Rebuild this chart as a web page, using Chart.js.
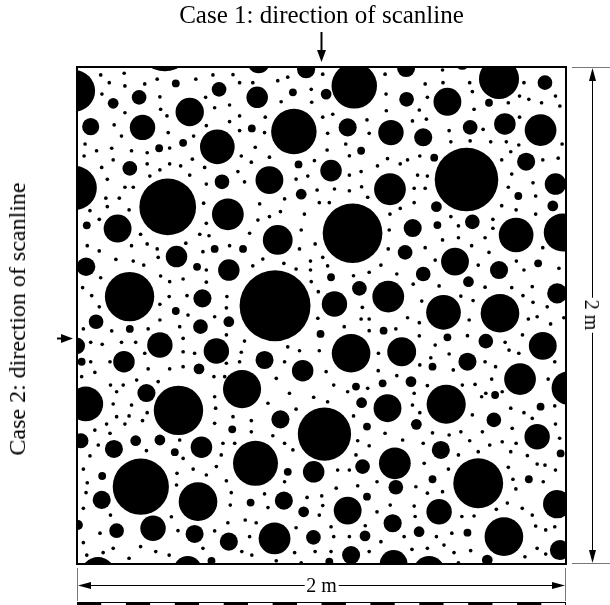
<!DOCTYPE html>
<html>
<head>
<meta charset="utf-8">
<script src="https://cdn.jsdelivr.net/npm/chart.js@4.4.1/dist/chart.umd.min.js"></script>
<style>
  html, body { margin: 0; padding: 0; background: #fff; }
  #wrap { position: relative; width: 610px; height: 605px; overflow: hidden; }
  #c { position: absolute; left: 0; top: 0; }
  .lbl {
    position: absolute;
    font-family: "Liberation Serif", "Times New Roman", serif;
    color: #000;
    white-space: nowrap;
    line-height: 1;
  }
  #t1 { left: 321.5px; top: 14px; font-size: 25px; transform: translate(-50%, -50%); }
  #t2 { left: 17px; top: 319px; font-size: 24px; transform: translate(-50%, -50%) rotate(-90deg); }
  #dimX { left: 321.5px; top: 585px; font-size: 20px; background: #fff; padding: 0 2px; transform: translate(-50%, -50%); }
  #dimY { left: 592px; top: 315px; font-size: 20px; background: #fff; padding: 0 2px; transform: translate(-50%, -50%) rotate(90deg); }
</style>
</head>
<body>
<div id="wrap">
  <canvas id="c" width="610" height="605"></canvas>
  <div class="lbl" id="t1">Case 1: direction of scanline</div>
  <div class="lbl" id="t2">Case 2: direction of scanline</div>
  <div class="lbl" id="dimX">2 m</div>
  <div class="lbl" id="dimY">2 m</div>
</div>
<script>
// Pore map of a 2 m x 2 m section, positions in cm from the top-left corner.
// [x, y, radius] in cm for the larger pores, [x, y] for the small and fine ones.

const SIDE = 200; // cm

const largePores = [
  [-1.1, 9.6, 8.5], [35.9, -9.3, 11.2], [46.1, 18.1, 5.8], [26.8, 24.3, 5.2], [57.4, 32.1, 7.1],
  [-0.9, 48.7, 9.0], [37.1, 56.3, 11.6], [61.7, 59.3, 6.5], [16.6, 65.0, 5.7], [113.4, 7.6, 9.3],
  [88.7, 26.0, 9.3], [128.4, 26.4, 5.2], [78.7, 45.5, 5.7], [128.0, 49.2, 6.5], [172.6, 4.8, 8.2],
  [151.5, 14.0, 5.7], [189.6, 25.4, 6.5], [159.3, 45.3, 13.0], [112.7, 66.9, 12.2], [82.1, 69.6, 6.1],
  [81.0, 96.1, 14.5], [21.5, 92.4, 10.1], [33.9, 111.9, 5.2], [57.0, 114.3, 5.2], [105.3, 95.4, 5.2],
  [127.3, 92.4, 6.5], [112.1, 115.2, 7.9], [132.8, 114.6, 5.9], [67.5, 129.6, 7.8], [179.6, 67.6, 7.1],
  [198.7, 66.6, 7.8], [154.6, 78.3, 5.7], [149.9, 98.7, 7.1], [173.0, 99.1, 7.9], [190.5, 112.2, 5.7],
  [181.2, 125.6, 6.5], [200.9, 129.2, 6.8], [3.6, 135.6, 7.1], [41.5, 138.2, 10.1], [26.1, 168.9, 11.5],
  [49.5, 174.9, 7.9], [31.1, 185.6, 5.2], [8.6, 204.2, 7.1], [45.3, 202.4, 5.7], [127.0, 137.3, 5.7],
  [101.2, 147.7, 10.9], [73.0, 159.5, 9.2], [130.0, 159.5, 6.5], [110.7, 178.5, 5.7], [80.8, 189.7, 6.5],
  [129.5, 200.0, 5.7], [151.0, 135.7, 8.0], [188.2, 148.8, 5.2], [164.1, 167.5, 10.2], [196.4, 175.9, 5.8],
  [148.1, 179.0, 5.2], [174.6, 189.0, 7.9], [144.0, 203.2, 6.5]
];

const mediumPores = [
  [58.1, 9.0, 3.0], [14.8, 14.6, 2.2], [25.4, 12.2, 3.0], [5.6, 24.0, 3.5], [21.6, 40.8, 3.0],
  [59.3, 46.2, 3.0], [74.3, -2.0, 4.6], [93.7, 0.9, 3.7], [73.7, 12.2, 4.4], [101.9, 10.9, 2.2],
  [110.7, 24.3, 3.7], [103.9, 41.7, 4.4], [91.7, 51.2, 2.2], [134.6, 0.4, 3.7], [157.6, -1.5, 2.7],
  [191.4, 6.3, 3.0], [134.8, 13.0, 3.0], [160.8, 24.3, 3.0], [175.0, 22.9, 4.4], [141.6, 28.3, 3.7],
  [183.7, 38.1, 3.7], [195.7, 47.1, 4.4], [147.0, 56.2, 2.2], [194.6, 55.9, 2.2], [161.7, 62.3, 3.0],
  [137.3, 64.8, 3.7], [40.7, 76.3, 4.4], [3.7, 80.4, 3.8], [62.1, 81.7, 4.4], [51.3, 93.1, 3.7],
  [7.8, 102.5, 3.0], [50.5, 104.5, 3.0], [62.1, 102.5, 2.2], [-0.1, 112.2, 3.4], [19.2, 118.6, 4.4],
  [49.9, 121.5, 2.2], [115.5, 89.1, 3.0], [76.7, 117.9, 3.7], [92.3, 122.2, 4.4], [134.2, 74.6, 3.0],
  [172.6, 81.7, 3.7], [141.6, 83.3, 3.0], [160.1, 86.4, 2.2], [196.4, 91.1, 4.1], [167.2, 110.3, 3.0],
  [159.7, 118.6, 3.7], [136.6, 126.6, 2.2], [28.4, 131.2, 3.7], [1.6, 150.4, 3.1], [15.1, 153.7, 3.7],
  [24.0, 150.4, 2.2], [33.9, 150.1, 2.2], [50.9, 153.0, 4.4], [10.1, 174.2, 3.7], [16.2, 186.6, 3.0],
  [48.1, 187.9, 3.7], [62.1, 191.0, 3.7], [0.4, 184.3, 2.0], [116.4, 135.1, 2.2], [83.2, 141.8, 3.7],
  [116.8, 160.8, 3.0], [96.8, 162.9, 4.4], [130.4, 169.1, 3.0], [84.6, 174.5, 3.7], [92.7, 179.0, 2.2],
  [129.1, 183.6, 3.7], [96.7, 189.3, 3.0], [117.8, 188.7, 2.2], [112.1, 196.4, 3.7], [138.8, 143.8, 2.2],
  [170.5, 142.0, 3.0], [148.8, 154.1, 3.7], [139.9, 187.0, 2.2], [197.5, 194.4, 4.1], [167.8, 198.4, 2.2]
];

const SMALL_R = 1.6;
const smallPores = [
  [40.4, 6.6], [43.4, 30.5], [33.6, 32.7], [4.0, 63.7], [88.3, 10.2], [71.5, 24.7], [116.2, 33.7],
  [90.6, 39.2], [168.5, 14.4], [146.1, 36.5], [180.5, 51.9], [147.4, 63.6], [56.3, 73.2], [49.1, 80.4],
  [40.4, 98.2], [21.6, 105.4], [1.9, 118.6], [67.9, 73.2], [103.9, 84.6], [125.4, 106.1], [99.6, 107.4],
  [114.1, 128.6], [125.0, 127.3], [188.6, 79.0], [151.5, 108.8], [145.4, 120.6], [63.5, 145.8],
  [40.0, 155.0], [10.3, 164.6], [55.0, 198.8], [118.6, 144.7], [86.2, 162.9], [118.6, 172.9],
  [71.0, 175.3], [103.2, 199.1], [171.0, 132.0], [189.6, 136.7], [197.8, 155.5], [145.4, 165.9],
  [184.8, 165.9], [159.7, 187.4]
];

const FINE_R = 0.75;
const finePores = [
  // upper left
  [9.7, 3.2], [19.3, 2.5], [13.2, 6.3], [19.6, 7.6], [27.7, 6.8], [32.8, 4.9], [48.6, 4.9], [55.6, 3.2],
  [63.8, 3.1], [10.2, 10.9], [33.9, 12.0], [19.6, 18.4], [34.2, 17.0], [36.8, 19.7], [52.6, 12.2],
  [56.3, 16.4], [62.4, 15.3], [62.4, 22.0], [52.9, 23.6], [15.2, 23.3], [18.2, 27.8], [37.3, 26.4],
  [47.7, 27.8], [37.9, 32.6], [3.3, 31.0], [8.0, 33.7], [14.2, 32.7], [22.3, 33.7], [28.7, 34.5],
  [2.9, 35.8], [14.8, 37.4], [28.7, 39.0], [33.9, 41.4], [37.9, 39.0], [42.4, 39.8], [47.2, 37.1],
  [52.2, 40.4], [10.1, 40.4], [29.8, 43.9], [46.1, 43.5], [12.4, 45.2], [19.6, 48.4], [23.0, 48.4],
  [52.9, 47.1], [11.8, 52.8], [17.3, 52.8], [12.4, 56.2], [5.3, 57.8], [21.3, 57.5], [9.1, 61.3],
  [51.8, 54.8], [52.9, 62.9],
  // upper middle
  [100.5, 2.9], [66.5, 6.3], [71.9, 6.3], [82.1, 5.5], [86.2, 4.1], [95.8, 9.0], [96.0, 14.2],
  [83.5, 14.0], [126.0, 2.9], [126.4, 10.9], [66.5, 19.7], [77.0, 20.2], [100.5, 20.2], [104.6, 19.0],
  [118.6, 21.3], [126.5, 17.6], [66.5, 25.6], [76.7, 26.4], [102.5, 26.7], [119.5, 26.7], [72.9, 32.3],
  [102.3, 33.4], [109.9, 31.0], [67.2, 35.8], [78.7, 36.3], [111.4, 35.7], [127.0, 36.9], [132.2, 39.0],
  [71.3, 38.3], [97.1, 37.7], [122.9, 39.8], [65.8, 42.1], [89.6, 45.1], [94.4, 43.9], [111.4, 43.5],
  [116.2, 42.1], [68.5, 46.2], [98.2, 49.5], [105.3, 49.1], [111.4, 49.8], [116.4, 48.2], [84.9, 53.1],
  [99.1, 54.6], [103.2, 54.6], [118.9, 52.4], [74.7, 55.1], [83.2, 58.2], [93.0, 59.2], [74.0, 61.6],
  [78.7, 60.2], [128.0, 59.2], [132.2, 56.9],
  // upper right
  [149.5, 1.2], [142.4, 6.8], [149.7, 6.3], [160.6, 6.3], [161.7, 9.9], [182.8, 6.3], [143.3, 12.2],
  [176.4, 14.4], [181.0, 11.7], [184.8, 13.0], [190.0, 14.4], [195.7, 11.7], [197.5, 15.7], [162.4, 17.0],
  [140.0, 17.3], [137.2, 21.7], [142.9, 21.0], [181.0, 20.2], [166.1, 25.1], [152.2, 25.6], [152.9, 30.1],
  [160.8, 29.7], [169.2, 30.1], [175.6, 30.1], [180.7, 31.4], [198.4, 31.0], [177.4, 34.1], [135.2, 37.4],
  [140.2, 35.8], [173.7, 37.4], [190.5, 37.4], [196.8, 36.7], [139.3, 43.5], [143.3, 43.9], [177.8, 43.1],
  [137.9, 48.8], [142.4, 48.8], [176.4, 48.4], [186.5, 46.6], [187.6, 51.9], [137.9, 54.6], [173.7, 55.8],
  [152.9, 60.2], [170.1, 61.3], [179.6, 57.5], [187.6, 59.2], [156.0, 63.9], [170.1, 64.9],
  // middle left
  [26.0, 67.3], [50.2, 67.3], [54.0, 67.9], [4.2, 71.9], [9.1, 74.0], [22.3, 71.9], [28.7, 71.2],
  [32.8, 73.2], [44.5, 70.9], [51.5, 74.3], [62.4, 71.9], [15.9, 77.4], [23.0, 78.1], [27.3, 79.7],
  [33.2, 76.6], [52.9, 81.7], [9.7, 84.8], [34.2, 84.1], [37.9, 86.4], [43.4, 85.3], [52.9, 86.6],
  [2.3, 88.8], [6.0, 92.0], [37.7, 92.4], [45.0, 92.0], [61.3, 92.4], [9.1, 96.5], [33.9, 95.5],
  [45.4, 99.8], [61.1, 96.9], [56.3, 100.5], [33.9, 101.8], [2.6, 105.4], [14.2, 106.2], [29.1, 105.4],
  [42.0, 104.5], [61.1, 107.8], [43.4, 109.2], [5.6, 110.8], [10.3, 111.6], [18.2, 110.8], [24.0, 110.8],
  [43.4, 114.6], [48.1, 115.2], [5.6, 118.6], [13.5, 118.6], [27.7, 115.2], [29.1, 121.5], [37.9, 121.5],
  [43.4, 120.6], [61.1, 119.2], [1.9, 124.6], [7.3, 122.9], [13.7, 128.0], [18.9, 128.0], [24.4, 126.0],
  [33.2, 126.6], [16.2, 130.7], [56.0, 124.6], [60.4, 124.6],
  // centre
  [70.6, 66.9], [91.7, 65.6], [127.7, 65.6], [91.0, 73.2], [97.4, 71.2], [127.3, 73.2], [76.0, 77.3],
  [71.9, 80.0], [84.6, 79.0], [89.6, 81.3], [95.5, 78.1], [95.5, 81.7], [100.5, 76.6], [102.5, 80.0],
  [124.3, 79.7], [113.1, 84.0], [119.5, 82.6], [130.8, 83.3], [95.8, 86.4], [98.7, 90.4], [116.7, 96.7],
  [98.5, 101.1], [109.3, 104.5], [116.2, 101.4], [119.5, 101.4], [119.5, 106.1], [130.4, 105.4],
  [68.5, 110.3], [86.2, 112.6], [91.0, 114.2], [99.1, 114.2], [67.2, 114.8], [66.5, 118.6], [84.9, 118.6],
  [123.3, 115.2], [101.9, 122.6], [123.2, 122.2], [130.8, 124.2], [81.5, 125.3], [86.9, 131.3],
  [105.0, 128.0], [110.7, 130.7], [118.9, 129.3],
  // middle right
  [149.5, 69.6], [156.0, 68.7], [166.9, 68.7], [142.4, 72.7], [161.4, 71.9], [168.5, 74.6], [190.5, 72.7],
  [179.7, 78.1], [182.8, 81.7], [197.1, 81.0], [146.5, 77.7], [164.1, 79.7], [137.5, 87.4], [148.1, 88.1],
  [166.9, 88.6], [177.8, 88.8], [186.2, 88.4], [157.0, 92.2], [162.0, 94.0], [182.4, 92.0], [186.5, 94.7],
  [192.3, 96.5], [141.0, 94.2], [135.2, 100.9], [140.0, 102.9], [160.4, 101.8], [184.6, 101.4],
  [188.2, 100.5], [193.7, 103.4], [199.1, 100.9], [140.0, 108.2], [159.7, 108.1], [175.1, 110.8],
  [182.2, 107.8], [146.5, 111.9], [176.7, 113.9], [152.2, 115.5], [180.7, 115.2], [144.7, 117.0],
  [166.9, 118.6], [171.2, 120.6], [140.2, 119.9], [153.9, 121.9], [195.4, 118.6], [162.8, 127.7],
  [169.6, 125.6], [143.3, 128.2], [157.6, 128.0], [192.7, 125.6], [173.9, 130.7], [167.2, 131.3],
  [137.9, 131.3],
  // lower left
  [14.8, 135.6], [22.3, 136.0], [28.7, 139.1], [21.3, 140.4], [16.2, 140.7], [56.3, 132.7], [56.7, 137.3],
  [63.8, 140.7], [12.1, 143.7], [19.6, 143.7], [26.8, 142.3], [56.3, 143.4], [7.3, 146.1], [13.5, 147.4],
  [42.0, 150.1], [59.7, 151.4], [64.5, 151.4], [8.7, 152.1], [5.3, 156.5], [28.4, 154.4], [43.4, 157.5],
  [59.0, 156.1], [2.6, 161.8], [40.9, 163.5], [47.5, 161.8], [52.9, 164.2], [57.0, 160.8], [4.2, 167.3],
  [40.7, 168.2], [61.1, 166.5], [3.7, 171.3], [63.1, 171.3], [2.6, 177.6], [62.7, 176.3], [13.7, 180.3],
  [38.6, 181.0], [61.7, 183.4], [9.4, 187.6], [41.3, 186.6], [56.3, 186.7], [2.6, 191.4], [14.8, 193.7],
  [26.0, 193.0], [32.2, 195.0], [37.7, 196.4], [10.7, 195.4], [4.0, 196.4], [21.3, 197.7], [51.5, 193.7],
  // lower middle
  [96.8, 132.9], [78.1, 135.3], [102.5, 134.7], [89.6, 137.7], [71.3, 142.3], [113.1, 140.4],
  [126.0, 147.4], [133.2, 150.1], [71.3, 146.8], [80.1, 148.4], [84.9, 151.4], [88.3, 154.1],
  [114.8, 150.4], [119.5, 152.4], [114.1, 156.1], [106.6, 162.2], [111.4, 162.2], [84.9, 166.9],
  [106.0, 169.5], [114.8, 168.5], [122.7, 166.9], [76.7, 171.8], [94.1, 173.2], [100.1, 172.6],
  [78.1, 177.3], [100.5, 176.5], [122.7, 179.0], [128.1, 176.3], [99.1, 180.3], [68.8, 182.3],
  [73.3, 183.4], [89.6, 185.4], [103.9, 185.0], [117.9, 184.6], [105.0, 189.0], [111.4, 189.0],
  [124.3, 191.0], [70.6, 189.0], [67.4, 195.0], [71.5, 196.4], [89.0, 195.4], [97.4, 195.0],
  [103.9, 195.0], [119.5, 195.0], [81.5, 198.7], [91.7, 199.5],
  // lower right
  [165.5, 132.7], [137.2, 136.0], [140.2, 139.1], [161.7, 140.0], [177.4, 137.3], [182.8, 139.1],
  [186.2, 141.4], [195.4, 136.4], [195.7, 143.7], [145.4, 147.2], [152.2, 148.1], [157.0, 146.8],
  [165.8, 146.8], [178.0, 145.4], [197.4, 149.4], [141.6, 151.4], [160.6, 150.4], [168.8, 152.1],
  [173.9, 150.8], [179.6, 151.4], [177.4, 154.8], [142.0, 159.5], [156.0, 156.1], [164.1, 154.8],
  [184.2, 156.4], [188.2, 159.8], [191.4, 160.2], [195.7, 162.2], [151.9, 161.8], [176.4, 161.1],
  [178.3, 165.9], [190.7, 166.9], [179.5, 169.8], [138.6, 168.9], [143.3, 171.5], [149.5, 170.9],
  [137.9, 176.7], [176.0, 175.5], [182.1, 177.6], [186.2, 180.3], [138.3, 180.9], [157.4, 180.9],
  [162.4, 180.7], [171.5, 178.0], [147.0, 189.0], [153.3, 187.6], [187.6, 184.7], [195.4, 185.0],
  [191.7, 186.3], [133.8, 189.0], [137.0, 194.1], [143.3, 193.7], [150.1, 192.4], [154.2, 195.4],
  [161.0, 194.6], [183.2, 197.1], [188.2, 193.7], [191.7, 196.0], [156.0, 199.5]
];

// ─── Helpers ────────────────────────────────────────────────────────────────

function toPoints(list, fixedR) {
  return list.map(p => ({ x: p[0], y: p[1], r: 0, rc: fixedR !== undefined ? fixedR : p[2] }));
}

function poreSet(label, data) {
  return {
    label,
    data,
    backgroundColor: '#000',
    borderWidth: 0,
    hoverRadius: 0,
    hoverBorderWidth: 0,
    clip: 0,
  };
}

// bubble radii are in pixels: convert the cm radius through the x scale
function applyRadii(chart) {
  const s = chart.scales.x;
  const zero = s.getPixelForValue(0);
  chart.data.datasets.forEach(ds => {
    ds.data.forEach(p => { p.r = Math.abs(s.getPixelForValue(p.rc) - zero); });
  });
}

function arrowHead(ctx, x, y, ang, len, half) {
  ctx.beginPath();
  ctx.moveTo(x, y);
  ctx.lineTo(x - len * Math.cos(ang) + half * Math.sin(ang), y - len * Math.sin(ang) - half * Math.cos(ang));
  ctx.lineTo(x - len * Math.cos(ang) - half * Math.sin(ang), y - len * Math.sin(ang) + half * Math.cos(ang));
  ctx.closePath();
  ctx.fill();
}

// frame, scanline arrows, dimension lines and the scale bar
const decorations = {
  id: 'decorations',
  afterDatasetsDraw(chart) {
    const { ctx, chartArea: a } = chart;
    const midX = (a.left + a.right) / 2;
    const midY = (a.top + a.bottom) / 2;
    ctx.save();

    ctx.strokeStyle = '#000';
    ctx.fillStyle = '#000';
    ctx.lineWidth = 2;
    ctx.strokeRect(a.left, a.top, a.right - a.left, a.bottom - a.top);

    // scanline arrows
    ctx.lineWidth = 2;
    ctx.beginPath();
    ctx.moveTo(midX, 32);
    ctx.lineTo(midX, a.top - 14);
    ctx.stroke();
    arrowHead(ctx, midX, a.top - 5, Math.PI / 2, 12, 4.5);

    ctx.beginPath();
    ctx.moveTo(a.left - 20, midY + 23);
    ctx.lineTo(a.left - 12, midY + 23);
    ctx.stroke();
    arrowHead(ctx, a.left - 4, midY + 23, 0, 12, 4.5);

    // extension lines
    ctx.strokeStyle = '#777';
    ctx.lineWidth = 1;
    ctx.beginPath();
    ctx.moveTo(a.right + 6, a.top + 0.5); ctx.lineTo(610, a.top + 0.5);
    ctx.moveTo(a.right + 6, a.bottom - 0.5); ctx.lineTo(610, a.bottom - 0.5);
    ctx.moveTo(a.left + 0.5, a.bottom + 4); ctx.lineTo(a.left + 0.5, a.bottom + 37);
    ctx.moveTo(a.right - 0.5, a.bottom + 4); ctx.lineTo(a.right - 0.5, a.bottom + 37);
    ctx.stroke();

    // dimension lines
    const dx = a.right + 26;
    const dy = a.bottom + 21;
    ctx.strokeStyle = '#000';
    ctx.beginPath();
    ctx.moveTo(dx + 0.5, a.top + 8); ctx.lineTo(dx + 0.5, a.bottom - 8);
    ctx.moveTo(a.left + 8, dy + 0.5); ctx.lineTo(a.right - 8, dy + 0.5);
    ctx.stroke();
    arrowHead(ctx, dx + 0.5, a.top + 1, -Math.PI / 2, 13, 3.5);
    arrowHead(ctx, dx + 0.5, a.bottom - 1, Math.PI / 2, 13, 3.5);
    arrowHead(ctx, a.left + 1, dy + 0.5, Math.PI, 13, 3.5);
    arrowHead(ctx, a.right - 1, dy + 0.5, 0, 13, 3.5);

    // chequered 0.1 m scale bar
    const segs = 20;
    const w = (a.right - a.left) / segs;
    const top = a.bottom + 38;
    for (let i = 0; i < segs; i++) {
      ctx.fillStyle = i % 2 === 0 ? '#000' : '#fff';
      ctx.fillRect(a.left + i * w, top, w, 10);
    }
    ctx.strokeStyle = '#000';
    ctx.strokeRect(a.left + 0.5, top + 0.5, a.right - a.left - 1, 10);

    ctx.restore();
  }
};

// ─── Chart ──────────────────────────────────────────────────────────────────

const poreChart = new Chart(document.getElementById('c'), {
  type: 'bubble',
  data: {
    datasets: [
      poreSet('Large pores', toPoints(largePores)),
      poreSet('Medium pores', toPoints(mediumPores)),
      poreSet('Small pores', toPoints(smallPores, SMALL_R)),
      poreSet('Fine pores', toPoints(finePores, FINE_R)),
    ]
  },
  options: {
    responsive: false,
    animation: false,
    devicePixelRatio: 1,
    events: [],
    layout: { padding: { left: 77, right: 44, top: 67, bottom: 41 } },
    plugins: {
      legend: { display: false },
      tooltip: { enabled: false },
    },
    scales: {
      x: { type: 'linear', min: 0, max: SIDE, display: false },
      y: { type: 'linear', min: 0, max: SIDE, reverse: true, display: false },
    }
  },
  plugins: [decorations]
});

applyRadii(poreChart);
poreChart.update('none');
</script>
</body>
</html>
